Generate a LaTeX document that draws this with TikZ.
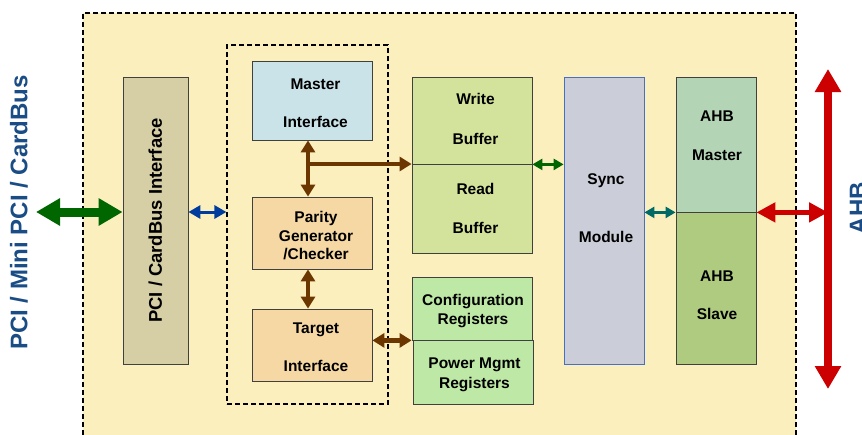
\documentclass[tikz,border=0pt]{standalone}
\usepackage{fontspec}
\setmainfont{Liberation Sans}
\usetikzlibrary{arrows.meta}

\definecolor{bgyellow}{HTML}{FCEFBE}
\definecolor{pcitan}{HTML}{D6CEA4}
\definecolor{mastblue}{HTML}{C9E3E8}
\definecolor{peach}{HTML}{F5D8A3}
\definecolor{bufgreen}{HTML}{D4E39B}
\definecolor{reggreen}{HTML}{BEE8A5}
\definecolor{syncgray}{HTML}{CBCED8}
\definecolor{syncedge}{HTML}{4A6FC0}
\definecolor{ahbmfill}{HTML}{B4D4B6}
\definecolor{ahbsfill}{HTML}{AECB80}
\definecolor{brownarr}{HTML}{6B3600}
\definecolor{darkgreen}{HTML}{006600}
\definecolor{linkblue}{HTML}{003C9E}
\definecolor{tealarr}{HTML}{006A66}
\definecolor{busred}{HTML}{CC0000}
\definecolor{labelblue}{HTML}{1A4C85}

\tikzset{
  blk/.style={draw=black!75, line width=0.8pt, rectangle, inner sep=0pt,
              align=center, text=black},
  boxtext/.style={inner sep=0pt, align=center, text=black},
  dashbox/.style={draw=black, line width=1.2pt, dash pattern=on 5pt off 3pt,
                  rectangle, inner sep=0pt},
  brarr/.style={draw=brownarr, line width=4.5pt,
                {Triangle[length=12pt,width=14pt]}-{Triangle[length=12pt,width=14pt]}},
  brone/.style={draw=brownarr, line width=4.5pt, -{Triangle[length=12pt,width=14pt]}},
  smallgreen/.style={draw=darkgreen, line width=3pt,
                {Triangle[length=10pt,width=11pt]}-{Triangle[length=10pt,width=11pt]}},
  tealbus/.style={draw=tealarr, line width=3pt,
                {Triangle[length=10pt,width=11pt]}-{Triangle[length=10pt,width=11pt]}},
  bluebus/.style={draw=linkblue, line width=3pt,
                {Triangle[length=12pt,width=13pt]}-{Triangle[length=12pt,width=13pt]}},
  redlink/.style={draw=busred, line width=5pt,
                {Triangle[length=19pt,width=19pt]}-{Triangle[length=19pt,width=19pt]}},
  redbus/.style={draw=busred, line width=8pt,
                {Triangle[length=23pt,width=25pt]}-{Triangle[length=23pt,width=25pt]}},
  pcibus/.style={draw=darkgreen, line width=9pt,
                {Triangle[length=24pt,width=26pt]}-{Triangle[length=24pt,width=26pt]}},
  sidelabel/.style={text=labelblue, font=\bfseries\fontsize{24}{28}\selectfont,
                    rotate=90, inner sep=0pt}
}

\begin{document}
\begin{tikzpicture}[x=1pt, y=-1pt, font=\bfseries\fontsize{15.5}{18}\selectfont]
\clip (0,0) rectangle (862,434);
\fill[white] (0,0) rectangle (862,434);

% bridge outline and the PCI core group
\node[dashbox, fill=bgyellow, minimum width=713pt, minimum height=437pt]
  (bridge) at (439.5,231.5) {};
\node[dashbox, minimum width=161pt, minimum height=359pt] (core) at (307.5,224.5) {};

% PCI side
\node[blk, fill=pcitan, rotate=90, minimum width=287pt, minimum height=65pt,
      font=\bfseries\fontsize{18.4}{22}\selectfont]
  (pci) at (155.5,220.5) {PCI / CardBus Interface};

\node[blk, fill=mastblue, minimum width=120pt, minimum height=79pt] (master) at (312,100.5) {};
\node[boxtext] (mastertext) at (315.5,103.5) {Master\\[20pt]Interface};
\node[blk, fill=peach, minimum width=120pt, minimum height=72pt] (parity) at (312,233) {};
\node[boxtext] (paritytext) at (316,236) {Parity\\[0.5pt]Generator\\[0.5pt]/Checker};
\node[blk, fill=peach, minimum width=120pt, minimum height=72pt] (target) at (312,345) {};
\node[boxtext] (targettext) at (316,347) {Target\\[20pt]Interface};

% buffers and registers
\node[blk, fill=bufgreen, minimum width=120pt, minimum height=87pt] (write) at (472,120.5) {};
\node[boxtext] (writetext) at (475.5,119) {Write\\[22pt]Buffer};
\node[blk, fill=bufgreen, minimum width=120pt, minimum height=89pt] (read) at (472,208.5) {};
\node[boxtext] (readtext) at (475.5,208) {Read\\[21pt]Buffer};
\node[blk, fill=reggreen, minimum width=120pt, minimum height=63pt] (config) at (472,308.5) {};
\node[boxtext] (configtext) at (473,311.5) {Configuration\\[1pt]Registers};
\node[blk, fill=reggreen, minimum width=120pt, minimum height=64pt] (power) at (473,372) {};
\node[boxtext] (powertext) at (474.5,375) {Power Mgmt\\[2pt]Registers};

% synchroniser
\node[blk, draw=syncedge, fill=syncgray, minimum width=80pt, minimum height=287pt]
  (sync) at (604,220.5) {};
\node[boxtext] (synctext) at (606,208) {Sync\\[40pt]Module};

% AHB side
\node[blk, fill=ahbmfill, minimum width=80pt, minimum height=135pt]
  (ahbm) at (716,144.5) {};
\node[boxtext] (ahbmtext) at (717,135.5) {AHB\\[21pt]Master};
\node[blk, fill=ahbsfill, minimum width=80pt, minimum height=152pt]
  (ahbs) at (716,288) {};
\node[boxtext] (ahbstext) at (717,295) {AHB\\[20pt]Slave};

% external bus labels
\node[sidelabel] (pcilabel) at (19,212.5) {PCI / Mini PCI / CardBus};
\node[sidelabel] (ahblabel) at (858,208) {AHB};

% connection points
\coordinate (pciext) at (36,212);
\coordinate (linky) at (0,212);
\coordinate (tap) at (308,164);
\coordinate (busTop) at (828,69);
\coordinate (busBot) at (828,389);

% external buses
\draw[pcibus] (pciext) -- (pciext -| pci.north);
\draw[redbus] (busTop) -- (busBot);

% internal links
\draw[bluebus] (linky -| pci.south) -- (linky -| core.west);
\draw[brarr] (tap |- master.south) -- (tap |- parity.north);
\draw[brone] (tap) -- (tap -| write.west);
\draw[brarr] (tap |- parity.south) -- (tap |- target.north);
\draw[brarr] (target.east |- config.south) -- (config.south west);
\draw[smallgreen] (write.south east) -- (write.south east -| sync.west);
\draw[tealbus] (ahbm.south west -| sync.east) -- (ahbm.south west);
\draw[redlink] (ahbm.south east) -- (busTop |- ahbm.south east);
\end{tikzpicture}
\end{document}
